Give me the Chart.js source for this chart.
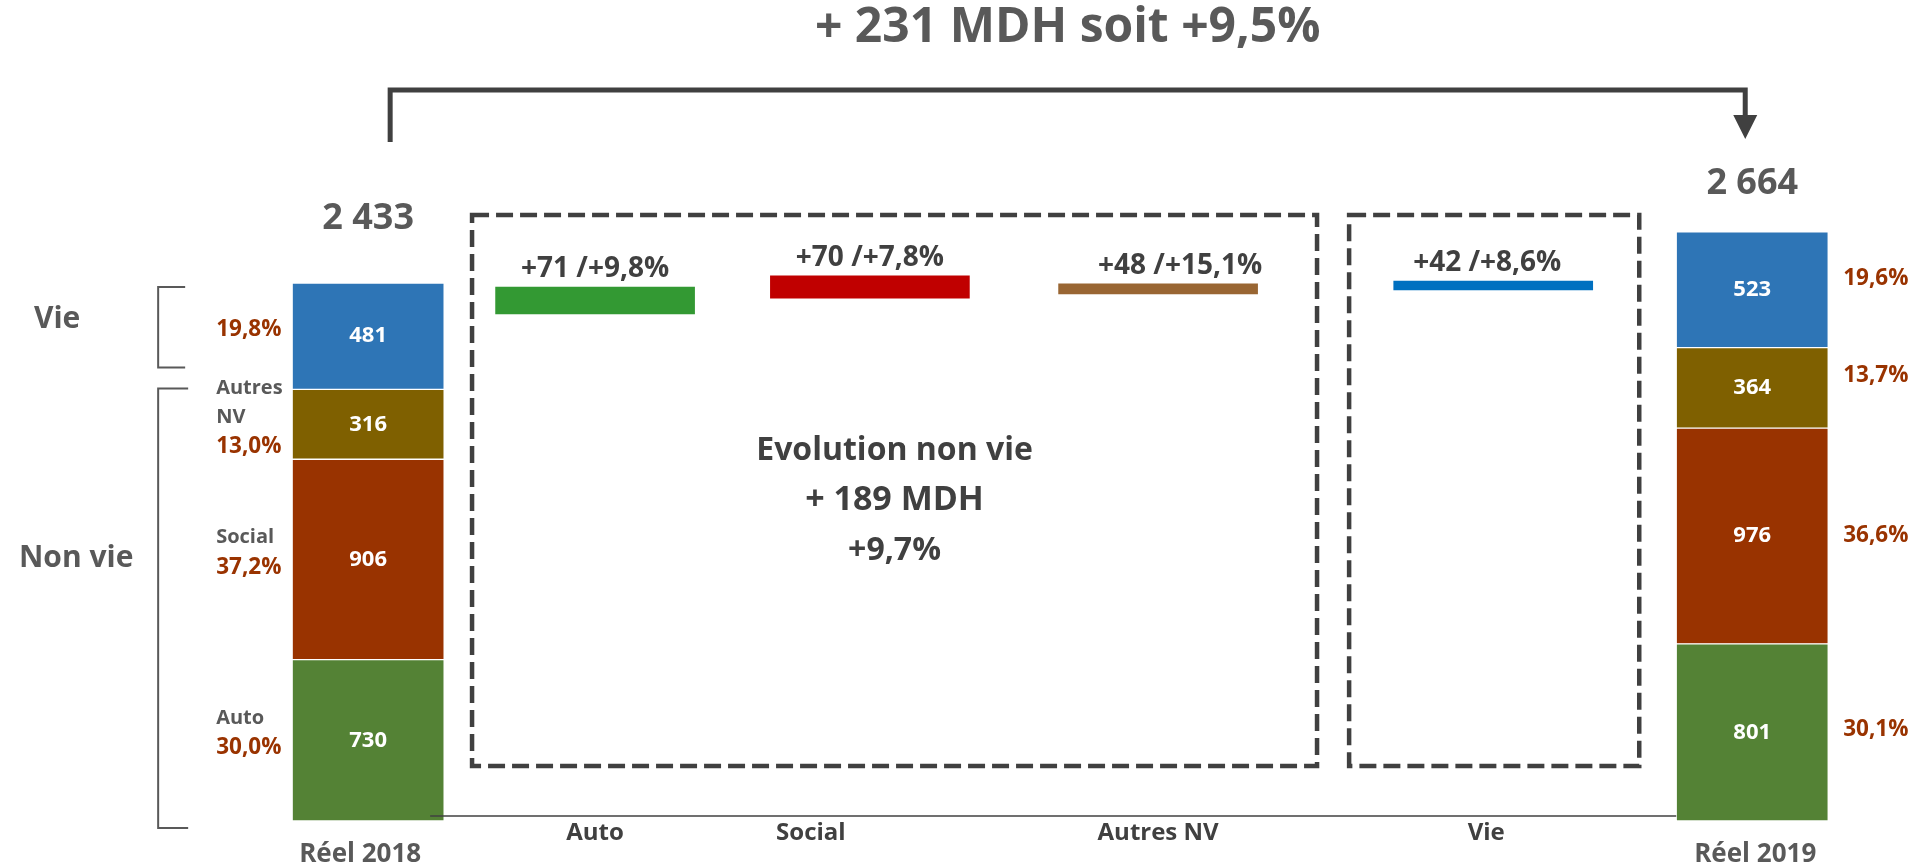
<!DOCTYPE html>
<html>
<head>
<meta charset="utf-8">
<title>Evolution du chiffre d'affaires 2018 - 2019</title>
<script src="https://cdn.jsdelivr.net/npm/chart.js@4.4.1/dist/chart.umd.min.js"></script>
<style>
  html, body { margin: 0; padding: 0; background: #fff; }
</style>
</head>
<body>
<canvas id="chart" width="1915" height="865"></canvas>
<script>
// ---- data (MDH) ----
const years = ['Réel 2018', 'Réel 2019'];
const branches = ['Auto', 'Social', 'Autres NV', 'Vie'];
const auto = [730, 801];
const social = [906, 976];
const autresNV = [316, 364];
const vie = [481, 523];
const totals = ['2 433', '2 664'];
const share2018 = ['30,0%', '37,2%', '13,0%', '19,8%'];
const share2019 = ['30,1%', '36,6%', '13,7%', '19,6%'];
const sideNames = [['Auto'], ['Social'], ['Autres', 'NV'], []];
const deltaLabels = ['+71 /+9,8%', '+70 /+7,8%', '+48 /+15,1%', '+42 /+8,6%'];
// variation marks, bounds as read on the value scale
const deltaLow = [2293, 2365, 2384, 2402];
const deltaHigh = [2415, 2465, 2429, 2442];
const title = '+ 231 MDH soit +9,5%';
const nonVieNote = ['Evolution non vie', '+ 189 MDH', '+9,7%'];
const groupLabels = ['Vie', 'Non vie'];

// ---- layout ----
const slot = { 'Réel 2018': 7.69, 'Auto': 12.43, 'Social': 18.17, 'Autres NV': 24.19, 'Vie': 31.19, 'Réel 2019': 36.6 };
const X_MAX = 40, Y_MAX = 3713;
const boxes = [{ from: 9.86, to: 27.51 }, { from: 28.18, to: 34.24 }];
const boxTop = 2741, boxBottom = 249;
const catNudge = [0, -59, 0, -7];
const yearNudge = [-8, 3];
const deltaNudge = [0, 0, 22, -6];
const totalLift = [54, 38];
const pct19Nudge = [-3, 0, -12, -11];

const stackColors = ['#548235', '#993300', '#7F6000', '#2E75B6'];
const deltaColors = ['#339933', '#C00000', '#996633', '#0070C0'];
const gray = '#595959', dark = '#404040', brown = '#993300';
const FONT = '"Open Sans", "DejaVu Sans", sans-serif';

const series = [auto, social, autresNV, vie];

function text(ctx, str, x, y, size, color, align, baseline) {
  ctx.font = '700 ' + size + 'px ' + FONT;
  ctx.fillStyle = color;
  ctx.textAlign = align || 'center';
  ctx.textBaseline = baseline || 'middle';
  ctx.fillText(str, x, y);
}
function line(ctx, x1, y1, x2, y2) {
  ctx.beginPath(); ctx.moveTo(x1, y1); ctx.lineTo(x2, y2); ctx.stroke();
}

const decor = {
  id: 'decor',
  afterDatasetsDraw(chart) {
    const { ctx, scales: { x, y } } = chart;
    const nSeg = series.length;
    const segMeta = i => chart.getDatasetMeta(i).data;
    const dMeta = chart.getDatasetMeta(nSeg).data;
    const y0 = y.getPixelForValue(0);
    const b18 = segMeta(0)[0], b19 = segMeta(0)[1];
    ctx.save();

    // base line
    ctx.strokeStyle = dark; ctx.lineWidth = 1.5;
    line(ctx, b18.x + b18.width / 2 - 14, y0 - 5, b19.x - b19.width / 2, y0 - 5);

    // values inside segments
    years.forEach((yr, j) => {
      series.forEach((vals, i) => {
        const el = segMeta(i)[j];
        text(ctx, String(vals[j]), el.x, (el.y + el.base) / 2, 22, '#fff');
      });
    });

    // shares left of 2018
    series.forEach((vals, i) => {
      const el = segMeta(i)[0];
      const rows = sideNames[i].map(t => ({ t, size: 20, color: gray }))
        .concat([{ t: share2018[i], size: 22.5, color: brown }]);
      const cy = (el.y + el.base) / 2 - 7;
      const x0 = el.x - el.width / 2 - 76;
      rows.forEach((r, k) => text(ctx, r.t, x0, cy + (k - (rows.length - 1) / 2) * 29.5, r.size, r.color, 'left'));
    });

    // shares right of 2019
    series.forEach((vals, i) => {
      const el = segMeta(i)[1];
      text(ctx, share2019[i], el.x + el.width / 2 + 15, (el.y + el.base) / 2 + pct19Nudge[i], 22.5, brown, 'left');
    });

    // totals
    years.forEach((yr, j) => {
      const el = segMeta(nSeg - 1)[j];
      text(ctx, totals[j], el.x, Math.min(el.y, el.base) - totalLift[j], 36, gray, 'center', 'alphabetic');
      text(ctx, yr, el.x + yearNudge[j], y0 + 41, 26, gray, 'center', 'alphabetic');
    });

    // variations
    dMeta.forEach((el, i) => {
      text(ctx, deltaLabels[i], el.x + deltaNudge[i], Math.min(el.y, el.base) - 10, 28, dark, 'center', 'alphabetic');
      text(ctx, branches[i], el.x + catNudge[i], y0 + 12, 24, dark, 'center', 'middle');
    });

    // dashed boxes
    ctx.setLineDash([17, 7]); ctx.lineWidth = 4.5; ctx.strokeStyle = dark;
    const bt = y.getPixelForValue(boxTop), bb = y.getPixelForValue(boxBottom);
    boxes.forEach(b => {
      const l = x.getPixelForValue(b.from), r = x.getPixelForValue(b.to);
      ctx.strokeRect(l, bt, r - l, bb - bt);
    });
    ctx.setLineDash([]);

    // note in the non vie box
    const nx = (x.getPixelForValue(boxes[0].from) + x.getPixelForValue(boxes[0].to)) / 2;
    const ny = (bt + bb) / 2 + 10;
    text(ctx, nonVieNote[0], nx, ny - 50, 32, dark);
    text(ctx, nonVieNote[1], nx, ny, 34, dark);
    text(ctx, nonVieNote[2], nx, ny + 50, 32, dark);

    // top bracket with arrow
    const xl = b18.x + 22, xr = b19.x - 7;
    ctx.strokeStyle = dark; ctx.fillStyle = dark; ctx.lineWidth = 5;
    ctx.beginPath();
    ctx.moveTo(xl, 142); ctx.lineTo(xl, 90); ctx.lineTo(xr, 90); ctx.lineTo(xr, 116);
    ctx.stroke();
    ctx.beginPath();
    ctx.moveTo(xr - 12, 115); ctx.lineTo(xr + 12, 115); ctx.lineTo(xr, 139); ctx.closePath();
    ctx.fill();
    text(ctx, title, (xl + xr) / 2, 28, 48, gray);

    // left group brackets
    const bx = b18.x - b18.width / 2 - 134;
    const vEl = segMeta(3)[0], aEl = segMeta(2)[0];
    const groups = [
      { top: vEl.y + 4, bottom: vEl.base - 22, arm: 27, lx: bx - 101, dy: -8 },
      { top: aEl.y - 1, bottom: y0 + 7, arm: 30, lx: bx - 82, dy: -50 }
    ];
    ctx.strokeStyle = gray; ctx.lineWidth = 2;
    groups.forEach((g, k) => {
      ctx.beginPath();
      ctx.moveTo(bx + g.arm, g.top); ctx.lineTo(bx, g.top); ctx.lineTo(bx, g.bottom); ctx.lineTo(bx + g.arm, g.bottom);
      ctx.stroke();
      text(ctx, groupLabels[k], g.lx, (g.top + g.bottom) / 2 + g.dy, 30, gray);
    });

    ctx.restore();
  }
};

function draw() {
  const datasets = series.map((vals, i) => ({
    label: branches[i],
    data: years.map((yr, j) => ({ x: slot[yr], y: vals[j] })),
    backgroundColor: stackColors[i],
    borderColor: '#ffffff',
    borderWidth: 1,
    borderSkipped: false,
    barThickness: 152,
    stack: 'total',
    grouped: false
  }));
  datasets.push({
    label: 'Variation',
    data: branches.map((b, i) => ({ x: slot[b], y: [deltaLow[i], deltaHigh[i]] })),
    backgroundColor: deltaColors,
    borderWidth: 0,
    barThickness: 199,
    stack: 'variation',
    grouped: false
  });

  new Chart(document.getElementById('chart'), {
    type: 'bar',
    data: { datasets },
    options: {
      responsive: false,
      devicePixelRatio: 1,
      animation: false,
      layout: { padding: { top: 0, right: 0, bottom: 44, left: 0 } },
      plugins: { legend: { display: false }, tooltip: { enabled: false } },
      scales: {
        x: { type: 'linear', min: 0, max: X_MAX, offset: false, display: false },
        y: { stacked: true, min: 0, max: Y_MAX, display: false }
      }
    },
    plugins: [decor]
  });
}

document.fonts.load('700 20px "Open Sans"').then(draw, draw);
</script>
</body>
</html>
